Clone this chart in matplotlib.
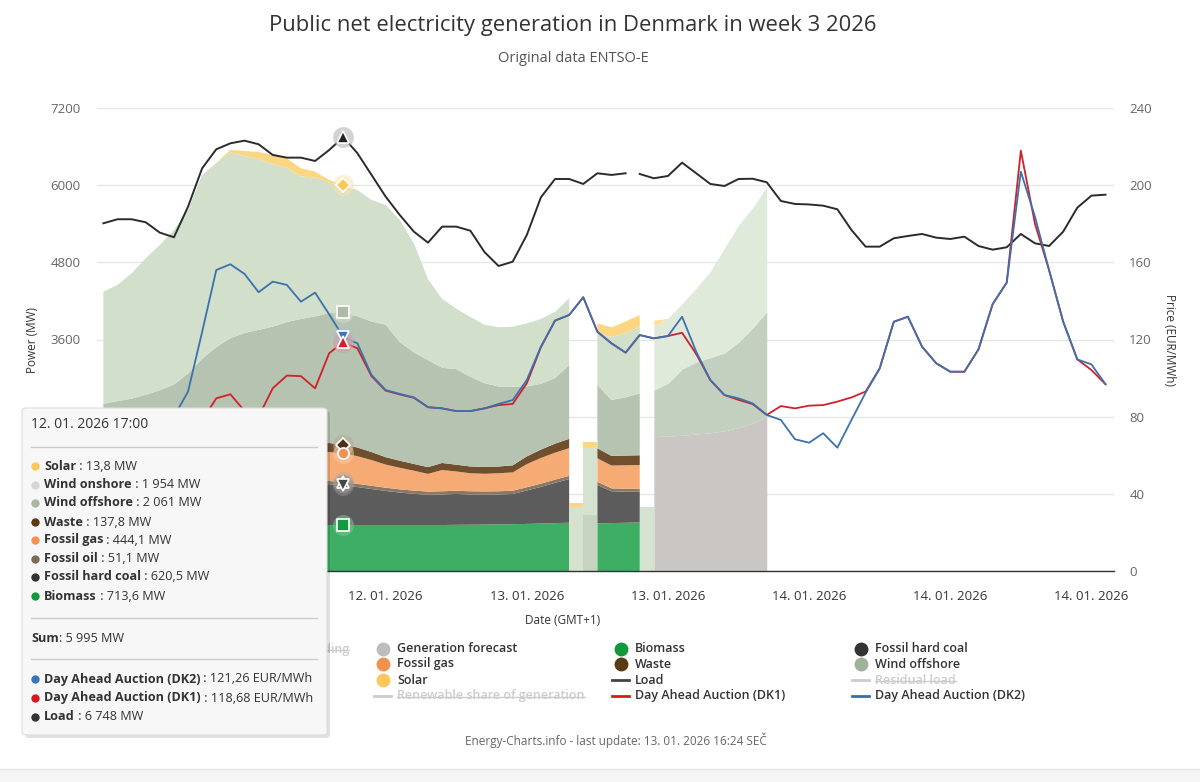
import numpy as np
import matplotlib.pyplot as plt
from matplotlib.patches import FancyBboxPatch, Rectangle
from matplotlib.lines import Line2D

plt.rcParams['font.family'] = ['Open Sans', 'DejaVu Sans']

W, H = 1200, 782
nan = np.nan

# hourly data, hour 0 = 12.01.2026 00:00 (GMT+1)
hours = np.arange(72)

# actual generation in MW, hours 0..38 (hour 34 missing)
biomass = [700, 700, 700, 700, 702, 704, 706, 708, 710, 710, 712, 712, 712, 713, 713, 713,
           715, 713.6, 715, 715, 715, 715, 715, 715, 715, 718, 720, 722, 725, 728, 732, 738,
           745, 750, nan, 740, 745, 750, 755]
hard_coal = [560, 565, 570, 575, 580, 585, 590, 595, 600, 605, 610, 615, 620, 625, 630, 632,
             635, 620.5, 590, 560, 530, 505, 485, 470, 475, 480, 470, 465, 465, 470, 520, 570,
             625, 680, nan, 597, 495, 483, 478]
fossil_oil = [50] * 17 + [51.1] + [50] * 16 + [nan] + [50, 45, 45, 45]
fossil_gas = [400, 405, 410, 415, 420, 425, 430, 435, 440, 445, 445, 445, 445, 445, 448, 448,
              450, 444.1, 430, 400, 360, 335, 310, 275, 330, 300, 280, 275, 280, 285, 360, 400,
              420, 430, nan, 365, 355, 367, 370]
waste = [130, 130, 130, 130, 130, 132, 134, 135, 136, 137, 138, 138, 138, 138, 138, 138,
         140, 137.8, 135, 125, 115, 110, 105, 105, 110, 105, 105, 105, 105, 110, 120, 130,
         140, 145, nan, 156, 150, 150, 152]
wind_offshore = [760, 790, 820, 870, 928, 1004, 1160, 1377, 1544, 1673, 1745, 1790, 1835, 1899,
                 1941, 1979, 2020, 2061, 2040, 2030, 2060, 1845, 1735, 1665, 1480, 1487, 1395,
                 1303, 1245, 1223, 1088, 1022, 1020, 1145, nan, 985, 870, 905, 963]
wind_onshore = [1744, 1808, 1950, 2123, 2260, 2403, 2544, 2859, 2860, 2890, 2752, 2656, 2530,
                2397, 2213, 2161, 2031, 1954, 1965, 1890, 1862, 1899, 1696, 1260, 1070, 940,
                930, 910, 920, 934, 980, 1010, 1030, 1040, nan, 804, 980, 1000, 1037]
solar = [0, 0, 0, 0, 0, 0, 0, 0, 5, 40, 80, 110, 140, 150, 130, 90, 40, 13.8, 0, 0, 0, 0, 0,
         0, 0, 0, 0, 0, 0, 0, 0, 0, 0, 0, nan, 155, 150, 180, 181]

# partial hours around missing data (one hour wide)
strip_hours = [33, 34, 38]
strip_offshore = [0, 870, 0]
strip_onshore = [1000, 1060, 1000]
strip_solar = [60, 70, 0]

# forecasts in MW, hours 39..47
forecast_hours = np.arange(39, 48)
gen_forecast = [2090, 2100, 2110, 2130, 2150, 2180, 2230, 2300, 2400]
offshore_forecast = [725, 820, 1030, 1120, 1170, 1210, 1330, 1480, 1633]
onshore_forecast = [985, 1010, 1020, 1150, 1340, 1630, 1820, 1870, 1947]
solar_forecast = [100, 0, 0, 0, 0, 0, 0, 0, 0]

load = [5407, 5470, 5470, 5423, 5262, 5190, 5666, 6263, 6558, 6651, 6692, 6636, 6470, 6428,
        6428, 6376, 6547, 6748, 6496, 6159, 5821, 5536, 5277, 5106, 5355, 5355, 5292, 4960,
        4743, 4810, 5225, 5811, 6096, 6096, 6019, 6185, 6159, 6185, 6174, 6107, 6143, 6350,
        6185, 6019, 5987, 6096, 6100, 6045, 5754, 5708, 5700, 5681, 5625, 5303, 5044, 5044,
        5174, 5210, 5241, 5184, 5163, 5199, 5054, 4997, 5034, 5241, 5096, 5054, 5277, 5650,
        5837, 5852]

# day ahead prices EUR/MWh
price_dk2 = [72, 70, 69, 70, 74, 80, 93, 124, 156, 159, 154, 144.5, 150, 148.3, 139.6, 144.3,
             133, 121.26, 118, 101.6, 93.8, 91.8, 90, 84.9, 84.3, 82.9, 82.9, 84.3, 86.6, 88.6,
             99, 116.3, 129.8, 132.7, 141.9, 124, 118, 113.2, 122.3, 120.6, 121.8, 131.8, 113.7,
             99, 91.2, 89.5, 86.9, 80.9, 78.3, 68.3, 66.5, 71.4, 63.9, 78.3, 92.4, 105, 129.2,
             131.8, 116.3, 107.7, 103.3, 103.3, 114.9, 138.3, 149.5, 207, 183.7, 156, 129.2,
             109.7, 107.1, 96.8]
price_dk1 = [70, 68, 67, 68, 72, 76, 78, 78, 89.5, 91.6, 83, 80, 94.7, 101.3, 101, 94.7,
             112.9, 118.68, 115.4, 101, 93.5, 91.5, 89.8, 84.9, 84.3, 82.9, 82.9, 84.3, 86,
             86.6, 97.3, 116, 129.8, 132.7, 141.9, 124, 118, 113.2, 122.3, 120.6, 121.8, 123.5,
             112.5, 99, 91.2, 88.7, 86.5, 80.9, 85.5, 84.3, 85.7, 86, 87.8, 90, 93, 105, 129.2,
             131.8, 116.3, 107.7, 103.3, 103.3, 114.9, 138.3, 149.5, 217.9, 180, 156, 129.2,
             109.7, 104.2, 96.8]

tick_hours = [20, 30, 40, 50, 60, 70]
tick_labels = ['12. 01. 2026', '13. 01. 2026', '13. 01. 2026',
               '14. 01. 2026', '14. 01. 2026', '14. 01. 2026']
power_ticks = [0, 1200, 2400, 3600, 4800, 6000, 7200]
# the lowest three labels sit under the tooltip in the reference
power_labels = ['', '', '', '3600', '4800', '6000', '7200']

c_bio, c_coal, c_oil, c_gas = '#3dae64', '#5c5c5c', '#8a7866', '#f6ab74'
c_waste, c_off, c_on, c_sol = '#6f4f2e', '#b6c3b0', '#d1dfcb', '#fdd682'


def px(x, y):
    return x / W, 1 - y / H


fig = plt.figure(figsize=(12, 7.82), dpi=100)
ax = fig.add_axes([97 / W, 1 - 571 / H, (1114 - 97) / W, (571 - 108) / H])
ax2 = ax.twinx()

# stacked generation
gen_hours = hours[:len(biomass)]
layers = [(biomass, c_bio), (hard_coal, c_coal), (fossil_oil, c_oil), (fossil_gas, c_gas),
          (waste, c_waste), (wind_offshore, c_off), (wind_onshore, c_on), (solar, c_sol)]
base = np.zeros(len(gen_hours))
for vals, col in layers:
    top = base + np.array(vals, dtype=float)
    ax.fill_between(gen_hours, base, top, color=col, lw=0, zorder=2)
    base = top

sb = np.zeros(len(strip_hours))
for vals, col in [(strip_offshore, '#c6d3c1'), (strip_onshore, '#d5e2d0'), (strip_solar, c_sol)]:
    ax.bar(strip_hours, vals, width=1, align='edge', bottom=sb, color=col, lw=0, zorder=2)
    sb = sb + np.array(vals)

fb = np.zeros(len(forecast_hours))
for vals, col in [(gen_forecast, '#cac6c4'), (offshore_forecast, '#c4d0bf'),
                  (onshore_forecast, '#dfeadb'), (solar_forecast, '#fde0a0')]:
    top = fb + np.array(vals, dtype=float)
    ax.fill_between(forecast_hours, fb, top, color=col, lw=0, zorder=2)
    fb = top

# load line with a short break
ax.plot(hours[:38], load[:38], color='#2b2b2b', lw=1.4, zorder=4)
ax.plot(hours[38:], load[38:], color='#2b2b2b', lw=1.4, zorder=4)

ax2.plot(hours, price_dk1, color='#d0202a', lw=1.3, zorder=4)
ax2.plot(hours, price_dk2, color='#3b72ad', lw=1.3, zorder=4)

# hover markers at 12.01. 17:00
k = 17
stack = np.cumsum([biomass[k], hard_coal[k], fossil_oil[k], fossil_gas[k], waste[k],
                   wind_offshore[k], wind_onshore[k], solar[k]])
hover = [(load[k], '^', '#222222', '#b0b0b0', ax),
         (stack[7], 'D', '#fcc85c', '#fbe3ad', ax),
         (stack[5], 's', '#aebba8', '#d4dccf', ax),
         (stack[4], 'D', '#4a3218', '#b7a89a', ax),
         (stack[3], 'o', '#f39250', '#f6c9a6', ax),
         (stack[2], '^', '#7d6b58', '#b9aea3', ax),
         (stack[1], 'v', '#444444', '#8e8e8e', ax),
         (stack[0], 's', '#139a3e', '#7cc493', ax),
         (price_dk2[k], 'v', '#3a75b5', '#a9bfd8', ax2),
         (price_dk1[k], '^', '#d0202a', '#d99a9e', ax2)]
for val, mk, col, halo, a in hover:
    a.plot([hours[k]], [val], 'o', ms=15, color=halo, alpha=0.55, mec='none', zorder=5)
    a.plot([hours[k]], [val], mk, ms=8 if mk != 'D' else 7, color=col, mec='white',
           mew=1.2, zorder=6)

# axes styling
ax.set_xlim(-0.45, 71.6)
ax.set_ylim(0, 7200)
ax2.set_ylim(0, 240)
ax.set_yticks(power_ticks)
ax.set_yticklabels(power_labels)
ax2.set_yticks(np.arange(0, 241, 40))
ax.set_xticks(tick_hours)
ax.set_xticklabels(tick_labels)
ax.grid(axis='y', color='#e6e6e6', lw=1, zorder=0)
ax.set_axisbelow(True)
for a in (ax, ax2):
    for s in a.spines.values():
        s.set_visible(False)
ax2.spines['bottom'].set_visible(True)
ax2.spines['bottom'].set_color('#333333')
ax2.spines['bottom'].set_linewidth(1)
ax.tick_params(axis='y', length=0, pad=12, labelsize=9.5, labelcolor='#666666')
ax2.tick_params(axis='y', length=0, pad=11, labelsize=9.5, labelcolor='#666666')
ax.tick_params(axis='x', length=0, pad=14, labelsize=9.5, labelcolor='#333333')

fig.text(*px(32, 340), 'Power (MW)', rotation=90, ha='center', va='center',
         fontsize=8.5, color='#333333')
fig.text(*px(1170, 340), 'Price (EUR/MWh)', rotation=270, ha='center', va='center',
         fontsize=8.5, color='#333333')
fig.text(*px(563, 620), 'Date (GMT+1)', ha='center', va='center', fontsize=8.5,
         color='#333333')

fig.text(*px(573, 26), 'Public net electricity generation in Denmark in week 3 2026',
         ha='center', va='center', fontsize=15.8, color='#333333')
fig.text(*px(573, 59), 'Original data ENTSO-E', ha='center', va='center', fontsize=10.5,
         color='#555555')
fig.text(*px(616, 740), 'Energy-Charts.info - last update: 13. 01. 2026 16:24 SEČ',
         ha='center', va='center', fontsize=8.5, color='#666666')

renderer = fig.canvas.get_renderer()

# legend (first column lies mostly under the tooltip)
legend_items = [
    (149, 649, 'Cross border electricity trading', 'o', '#cccccc', False),
    (383, 649, 'Generation forecast', 'o', '#bdbdbd', True),
    (621, 649, 'Biomass', 'o', '#11993c', True),
    (861, 649, 'Fossil hard coal', 'o', '#333333', True),
    (383, 664, 'Fossil gas', 'o', '#f39250', True),
    (621, 664, 'Waste', 'o', '#5a3a12', True),
    (861, 664, 'Wind offshore', 'o', '#9fb39a', True),
    (383, 680, 'Solar', 'o', '#fdc75a', True),
    (621, 680, 'Load', '-', '#444444', True),
    (861, 680, 'Residual load', '-', '#cccccc', False),
    (383, 696, 'Renewable share of generation', '-', '#cccccc', False),
    (621, 696, 'Day Ahead Auction (DK1)', '-', '#d7191c', True),
    (861, 696, 'Day Ahead Auction (DK2)', '-', '#3a6ea5', True),
]
for x, y, label, mk, col, active in legend_items:
    if mk == 'o':
        fig.add_artist(Line2D([x / W], [1 - y / H], marker='o', ms=10, color=col,
                              mec='none', lw=0, zorder=1))
    else:
        fig.add_artist(Line2D([(x - 9) / W, (x + 8) / W], [1 - y / H, 1 - y / H],
                              color=col, lw=2, zorder=1))
    t = fig.text((x + 14) / W, 1 - y / H, label, ha='left', va='center', fontsize=9,
                 fontweight='semibold', color='#333333' if active else '#cccccc', zorder=1)
    if not active:
        bb = t.get_window_extent(renderer=renderer)
        fig.add_artist(Line2D([bb.x0 / W, bb.x1 / W], [1 - (y + 0.5) / H] * 2,
                              color='#cccccc', lw=1, zorder=1))

# tooltip
fig.add_artist(FancyBboxPatch(px(25, 738), 305 / W, 327 / H,
                              boxstyle='round,pad=0,rounding_size=0.004',
                              transform=fig.transFigure, facecolor='#000000', alpha=0.12,
                              lw=0, zorder=9))
fig.add_artist(FancyBboxPatch(px(22, 735), 305 / W, 327 / H,
                              boxstyle='round,pad=0,rounding_size=0.004',
                              transform=fig.transFigure, facecolor='#f7f7f7',
                              edgecolor='#dddddd', lw=0.8, zorder=10))
fig.text(*px(31, 425), '12. 01. 2026 17:00', ha='left', va='center', fontsize=10,
         color='#333333', zorder=11)
for yy in (447, 618, 659):
    fig.add_artist(Line2D([31 / W, 317 / W], [1 - yy / H] * 2, color='#cccccc', lw=1,
                          zorder=11))


def rich(x, y, parts):
    cx = x
    for s, wt in parts:
        t = fig.text(cx / W, 1 - y / H, s, ha='left', va='center', fontsize=9.1,
                     fontweight=wt, color='#333333', zorder=11)
        cx += t.get_window_extent(renderer=renderer).width


tip_rows = [
    (466, '#fcc85c', 'Solar', ' : 13,8 MW'),
    (485, '#d6d6d6', 'Wind onshore', ' : 1 954 MW'),
    (503, '#a9b6a3', 'Wind offshore', ' : 2 061 MW'),
    (522, '#5a3a12', 'Waste', ' : 137,8 MW'),
    (540, '#f39250', 'Fossil gas', ' : 444,1 MW'),
    (559, '#7d6b58', 'Fossil oil', ' : 51,1 MW'),
    (577, '#333333', 'Fossil hard coal', ' : 620,5 MW'),
    (596, '#11993c', 'Biomass', ' : 713,6 MW'),
    (679, '#3a75b5', 'Day Ahead Auction (DK2)', ' : 121,26 EUR/MWh'),
    (698, '#d7191c', 'Day Ahead Auction (DK1)', ' : 118,68 EUR/MWh'),
    (717, '#333333', 'Load', ' : 6 748 MW'),
]
for y, col, name, val in tip_rows:
    fig.add_artist(Line2D([35 / W], [1 - y / H], marker='o', ms=6, color=col, mec='none',
                          lw=0, zorder=11))
    rich(44, y, [(name, 'bold'), (val, 'normal')])
rich(31, 638, [('Sum', 'bold'), (': 5 995 MW', 'normal')])

# page footer band
fig.add_artist(Rectangle((0, 0), 1, 13 / H, transform=fig.transFigure,
                         facecolor='#f5f5f5', edgecolor='none', zorder=0))
fig.add_artist(Line2D([0, 1], [13 / H, 13 / H], color='#e4e4e4', lw=1, zorder=0))

fig.savefig('out.png', dpi=100)
